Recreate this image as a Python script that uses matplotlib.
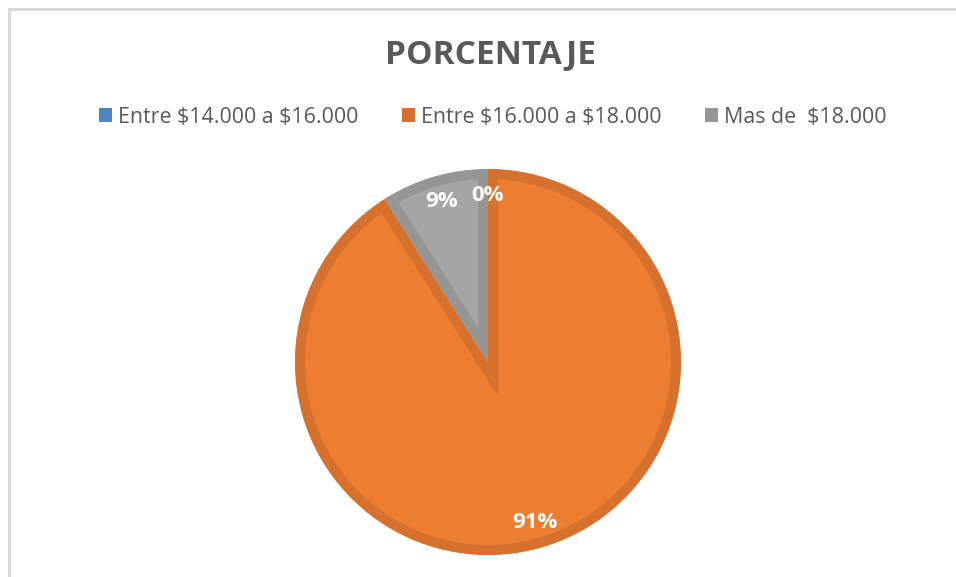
import matplotlib
matplotlib.use("Agg")
import matplotlib.pyplot as plt
from matplotlib.patches import Patch, Rectangle

categories = ["Entre $14.000 a $16.000", "Entre $16.000 a $18.000", "Mas de  $18.000"]
values = [0, 91, 9]
fill_colors = ["#5B9BD5", "#ED7D31", "#A5A5A5"]
edge_colors = ["#4A86C2", "#D5712D", "#959595"]
title = "PORCENTAJE"

W, H = 956, 577
fig = plt.figure(figsize=(W / 100, H / 100), dpi=100)
fig.patch.set_facecolor("white")

# chart area border (light gray, top & left visible)
fig.add_artist(Rectangle((9 / W, -0.1), 1.2, (H - 9) / H + 0.1, transform=fig.transFigure,
                         fill=False, edgecolor="#D9D9D9", linewidth=2.2))

font = "Open Sans"

cx, cy, r = 488, 362, 193
ax = fig.add_axes([(cx - r) / W, (H - cy - r) / H, 2 * r / W, 2 * r / H])
wedges, texts, autotexts = ax.pie(
    values, colors=fill_colors, startangle=90, counterclock=False,
    autopct="%1.0f%%", pctdistance=0.865, radius=1,
    textprops=dict(color="white", fontsize=16, fontweight="bold", family=font),
)
for w, ec in zip(wedges, edge_colors):
    w.set_edgecolor(ec)
    w.set_linewidth(14.4)
    w.set_clip_on(True)
    w.set_clip_path(w)
ax.set_xlim(-1, 1)
ax.set_ylim(-1, 1)
ax.set_aspect("equal")
ax.axis("off")

fig.text(490 / W, 1 - 55 / H, title, ha="center", va="center", fontsize=24,
         fontweight="bold", color="#595959", family=font)

handles = [Patch(facecolor=c, edgecolor="none") for c in edge_colors]
leg = fig.legend(handles, categories, loc="center", bbox_to_anchor=(493 / W, 1 - 117 / H),
                 ncol=3, frameon=False, handlelength=0.6, handleheight=0.6,
                 handletextpad=0.28, columnspacing=2.05,
                 prop=dict(family=font, size=15.4), labelcolor="#595959")
for t in leg.get_texts():
    t.set_parse_math(False)

fig.savefig("out.png", dpi=100)
